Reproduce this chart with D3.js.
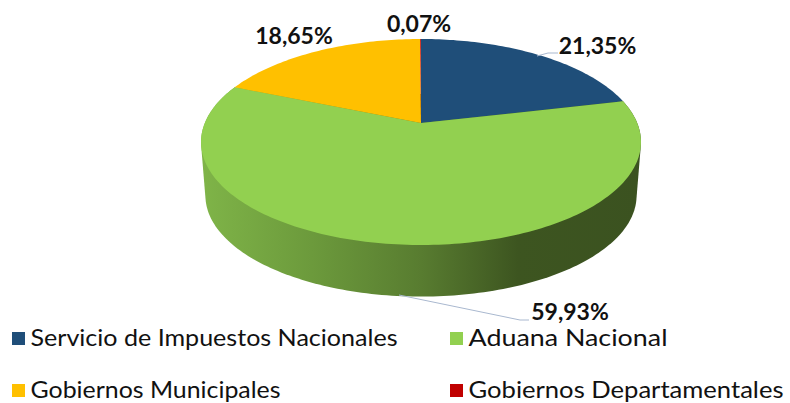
<!DOCTYPE html>
<html>
<head>
<meta charset="utf-8">
<script src="https://cdn.jsdelivr.net/npm/d3@7"></script>
<style>
  html, body { margin: 0; padding: 0; background: #fff; }
  svg { display: block; }
  text { font-family: Lato, "Open Sans", sans-serif; fill: #111; }
</style>
</head>
<body>
<svg id="drawing_region"></svg>
<script>
const categories = ["Servicio de Impuestos Nacionales", "Aduana Nacional", "Gobiernos Municipales", "Gobiernos Departamentales"];
const shares = [21.35, 59.93, 18.65, 0.07];
const shareLabels = ["21,35%", "59,93%", "18,65%", "0,07%"];
const colors = ["#1f4e79", "#92d050", "#ffc000", "#c00000"];

const width = 790, height = 403;

// layout, kept apart from the data
const labelPos = [[597.5, 54], [570, 320], [294, 44], [419, 32]];
const legendPos = [[12, 332], [450, 332], [12, 384], [450, 384]];
const legendTextWidth = [367, 199, 250, 315];
const leaders = [
    [[537, 56], [548, 53], [558, 53]],
    [[399, 295], [520, 320], [529, 320]]
];

const svg = d3.select("#drawing_region")
    .attr("width", width)
    .attr("height", height);

// perspective view of the disc: the centre sits above the middle of the ellipse
const cx = 421, cy = 123;
const persp = -0.1845, scaleX = 216.2, scaleY = 99.5;

function project( angle, shrink, drop ) {
    const u = Math.sin(angle), v = -Math.cos(angle);
    const w = 1 + persp * v;
    return [cx + shrink * scaleX * u / w, cy + drop + shrink * scaleY * v / w];
}

function arcPoints( a0, a1, shrink, drop ) {
    const n = Math.max(2, Math.ceil((a1 - a0) / 0.02));
    return d3.range(n + 1).map( i => project(a0 + (a1 - a0) * i / n, shrink, drop) );
}

const line = d3.line();
const slices = d3.pie().sort(null)(shares);

// side wall
const defs = svg.append("defs");
const grad = defs.append("linearGradient")
    .attr("id", "wall")
    .attr("gradientUnits", "userSpaceOnUse")
    .attr("x1", 202).attr("x2", 641).attr("y1", 0).attr("y2", 0);
[[0, "#7fb448"], [0.25, "#6c9a3c"], [0.5, "#587c30"], [0.72, "#3d5520"], [1, "#3b5220"]]
    .forEach( s => grad.append("stop").attr("offset", s[0]).attr("stop-color", s[1]) );

// the wall is the hull of the green arc on the top face and the same arc further down
const green = slices[1];
const wallHull = d3.polygonHull(
    arcPoints(green.startAngle, green.endAngle, 1, 0)
        .concat(arcPoints(green.startAngle, green.endAngle, 0.98, 54))
);
svg.append("path")
    .attr("d", line(wallHull) + "Z")
    .attr("fill", "url(#wall)");

// top face
svg.selectAll("path.slice")
    .data(slices)
    .enter()
    .append("path")
    .attr("class", "slice")
    .attr("d", d => line([[cx, cy]].concat(arcPoints(d.startAngle, d.endAngle, 1, 0))) + "Z")
    .attr("fill", (d, i) => colors[i]);

// leader lines
svg.selectAll("path.leader")
    .data(leaders)
    .enter()
    .append("path")
    .attr("class", "leader")
    .attr("d", d => line(d))
    .attr("fill", "none")
    .attr("stroke", "#a9b8cf")
    .attr("stroke-width", 1);

// value labels
svg.selectAll("text.value")
    .data(shareLabels)
    .enter()
    .append("text")
    .attr("class", "value")
    .attr("x", (d, i) => labelPos[i][0])
    .attr("y", (d, i) => labelPos[i][1])
    .attr("text-anchor", "middle")
    .attr("font-size", 23)
    .attr("font-weight", 700)
    .text(d => d);

// legend
const legend = svg.selectAll("g.legend")
    .data(categories)
    .enter()
    .append("g")
    .attr("class", "legend")
    .attr("transform", (d, i) => `translate(${legendPos[i][0]}, ${legendPos[i][1]})`);

legend.append("rect")
    .attr("x", 0).attr("y", 0)
    .attr("width", 13).attr("height", 13)
    .attr("fill", (d, i) => colors[i]);

legend.append("text")
    .attr("x", 18.5)
    .attr("y", 14)
    .attr("font-size", 24)
    .attr("textLength", (d, i) => legendTextWidth[i])
    .attr("lengthAdjust", "spacingAndGlyphs")
    .text(d => d);
</script>
</body>
</html>
